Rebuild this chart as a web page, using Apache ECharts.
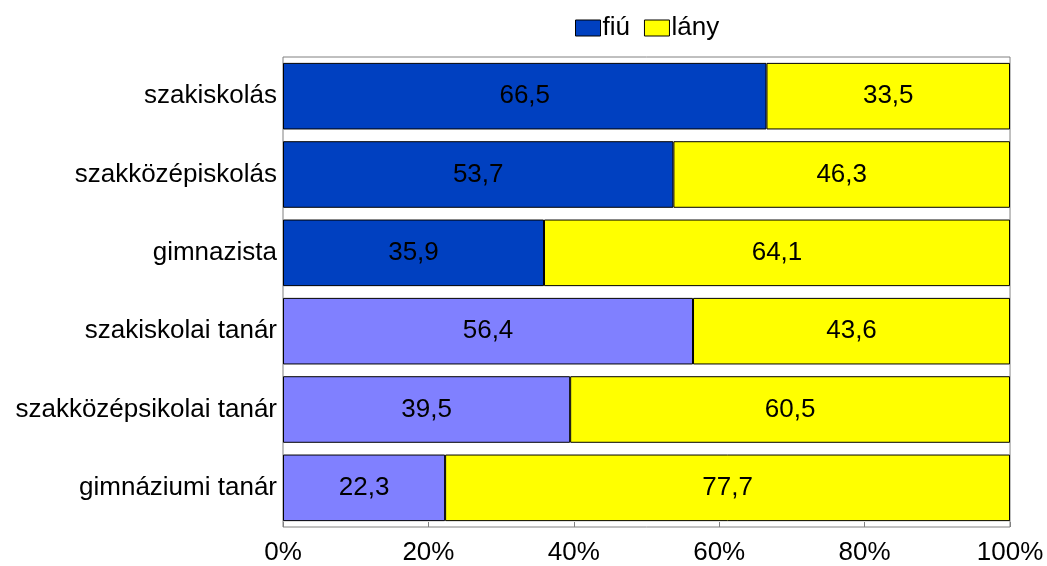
<!DOCTYPE html>
<html>
<head>
<meta charset="utf-8">
<script src="https://cdn.jsdelivr.net/npm/echarts@6/dist/echarts.min.js"></script>
<style>
  html, body { margin: 0; padding: 0; background: #fff; }
  #chart { width: 1047px; height: 566px; }
</style>
</head>
<body>
<div id="chart"></div>
<script>
const categories = [
  "szakiskolás",
  "szakközépiskolás",
  "gimnazista",
  "szakiskolai tanár",
  "szakközépsikolai tanár",
  "gimnáziumi tanár",
];
const fiuValues = [66.5, 53.7, 35.9, 56.4, 39.5, 22.3];
const lanyValues = [33.5, 46.3, 64.1, 43.6, 60.5, 77.7];
const tickLabels = ["0%", "20%", "40%", "60%", "80%", "100%"];

const darkBlue = "#0040C0";
const lightBlue = "#8080FF";
const yellow = "#FFFF00";

const chart = echarts.init(document.getElementById("chart"));

// magyar tizedesvessző
const fmt = (v) => v.toFixed(1).replace(".", ",");

const option = {
  animation: false,
  textStyle: { fontFamily: "Liberation Sans, Arial, sans-serif" },
  legend: {
    top: 10,
    left: 570,
    icon: "rect",
    itemWidth: 25,
    itemHeight: 16,
    itemGap: 14,
    textStyle: { fontSize: 26, color: "#000", padding: [0, 0, 0, -3] },
    data: [
      { name: "fiú", itemStyle: { color: darkBlue, borderColor: "#000", borderWidth: 1 } },
      { name: "lány", itemStyle: { color: yellow, borderColor: "#000", borderWidth: 1 } },
    ],
  },
  grid: {
    left: 283,
    right: 37,
    top: 57,
    bottom: 38,
    show: true,
    borderColor: "#808080",
    borderWidth: 1,
  },
  xAxis: {
    type: "value",
    min: 0,
    max: 100,
    interval: 20,
    axisLine: { show: false },
    axisTick: { show: true, inside: true, length: 5, lineStyle: { color: "#808080" } },
    splitLine: { show: false },
    axisLabel: {
      fontSize: 26,
      color: "#000",
      margin: 13,
      formatter: (v) => tickLabels[v / 20],
    },
  },
  yAxis: {
    type: "category",
    inverse: true,
    data: categories,
    axisLine: { show: false },
    axisTick: { show: false },
    axisLabel: { fontSize: 26, color: "#000", margin: 6 },
  },
  series: [
    {
      name: "fiú",
      type: "bar",
      stack: "total",
      barCategoryGap: "15%",
      itemStyle: { color: darkBlue, borderColor: "#000", borderWidth: 1 },
      label: { show: true, position: "inside", fontSize: 26, color: "#000", formatter: (p) => fmt(p.value) },
      data: fiuValues.map((v, i) => ({
        value: v,
        itemStyle: { color: i < 3 ? darkBlue : lightBlue },
      })),
    },
    {
      name: "lány",
      type: "bar",
      stack: "total",
      barCategoryGap: "15%",
      itemStyle: { color: yellow, borderColor: "#000", borderWidth: 1 },
      label: { show: true, position: "inside", fontSize: 26, color: "#000", formatter: (p) => fmt(p.value) },
      data: lanyValues,
    },
  ],
};

chart.setOption(option);
</script>
</body>
</html>
